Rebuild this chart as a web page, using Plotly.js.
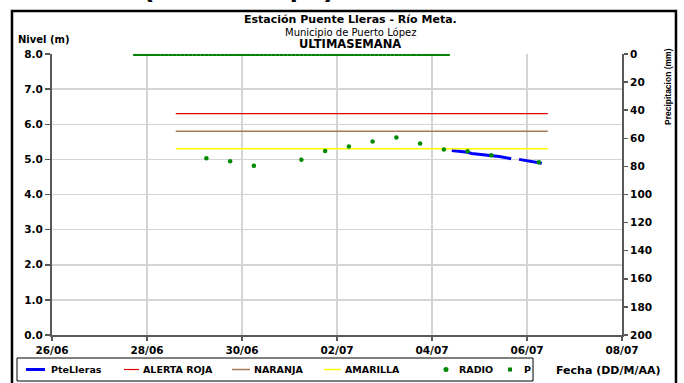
<!DOCTYPE html>
<html>
<head>
<meta charset="utf-8">
<script src="https://cdn.plot.ly/plotly-3.0.1.min.js"></script>
<style>html,body{margin:0;padding:0;background:#fff;}#chart{width:684px;height:383px;}</style>
</head>
<body>
<div id="chart"></div>
<script>
// Level series (PteLleras) - metres
const levelTime = ['2012-07-04 10:00','2012-07-04 12:00','2012-07-04 14:00','2012-07-04 16:00','2012-07-04 18:00','2012-07-04 20:00','2012-07-04 22:00',
  '2012-07-05 00:00','2012-07-05 02:00','2012-07-05 04:00','2012-07-05 06:00','2012-07-05 08:00','2012-07-05 10:00','2012-07-05 12:00','2012-07-05 14:00','2012-07-05 16:00','2012-07-05 18:00','2012-07-05 20:00','2012-07-05 22:00',
  '2012-07-06 00:00','2012-07-06 02:00','2012-07-06 04:00','2012-07-06 06:00','2012-07-06 07:30'];
const levelVal = [5.25,5.24,5.23,5.22,5.20,5.17,5.16,
  5.15,5.13,5.12,5.11,5.09,5.08,5.06,5.04,5.02,null,5.00,4.98,
  4.96,4.95,4.93,4.91,4.89];

// Alert thresholds
const alertTime = ['2012-06-28 14:30','2012-07-06 10:30'];
const rojaVal = [6.3,6.3];
const naranjaVal = [5.8,5.8];
const amarillaVal = [5.3,5.3];

// Radio reports
const radioTime = ['2012-06-29 06:00','2012-06-29 18:00','2012-06-30 06:00','2012-07-01 06:00','2012-07-01 18:00','2012-07-02 06:00','2012-07-02 18:00',
  '2012-07-03 06:00','2012-07-03 18:00','2012-07-04 06:00','2012-07-04 18:00','2012-07-05 06:00','2012-07-06 06:00'];
const radioVal = [5.03,4.95,4.82,4.99,5.24,5.37,5.51,5.62,5.45,5.28,5.23,5.12,4.92];

// Precipitation (mm)
const pTime = ['2012-06-27 18:00','2012-06-27 20:00','2012-06-27 22:00',
  '2012-06-28 00:00','2012-06-28 02:00','2012-06-28 04:00','2012-06-28 06:00','2012-06-28 08:00','2012-06-28 10:00','2012-06-28 12:00','2012-06-28 14:00','2012-06-28 16:00','2012-06-28 18:00','2012-06-28 20:00','2012-06-28 22:00',
  '2012-06-29 00:00','2012-06-29 02:00','2012-06-29 04:00','2012-06-29 06:00','2012-06-29 08:00','2012-06-29 10:00','2012-06-29 12:00','2012-06-29 14:00','2012-06-29 16:00','2012-06-29 18:00','2012-06-29 20:00','2012-06-29 22:00',
  '2012-06-30 00:00','2012-06-30 02:00','2012-06-30 04:00','2012-06-30 06:00','2012-06-30 08:00','2012-06-30 10:00','2012-06-30 12:00','2012-06-30 14:00','2012-06-30 16:00','2012-06-30 18:00','2012-06-30 20:00','2012-06-30 22:00',
  '2012-07-01 00:00','2012-07-01 02:00','2012-07-01 04:00','2012-07-01 06:00','2012-07-01 08:00','2012-07-01 10:00','2012-07-01 12:00','2012-07-01 14:00','2012-07-01 16:00','2012-07-01 18:00','2012-07-01 20:00','2012-07-01 22:00',
  '2012-07-02 00:00','2012-07-02 02:00','2012-07-02 04:00','2012-07-02 06:00','2012-07-02 08:00','2012-07-02 10:00','2012-07-02 12:00','2012-07-02 14:00','2012-07-02 16:00','2012-07-02 18:00','2012-07-02 20:00','2012-07-02 22:00',
  '2012-07-03 00:00','2012-07-03 02:00','2012-07-03 04:00','2012-07-03 06:00','2012-07-03 08:00','2012-07-03 10:00','2012-07-03 12:00','2012-07-03 14:00','2012-07-03 15:00','2012-07-03 17:00','2012-07-03 18:00','2012-07-03 20:00','2012-07-03 22:00',
  '2012-07-04 00:00','2012-07-04 02:00','2012-07-04 04:00','2012-07-04 06:00','2012-07-04 08:00'];
const pVal = [0,0,0,
  0,0,0,0,0,0,0,0,0,0,0,0,
  0,0,0,0,0,0,0,0,0,0,0,0,
  0,0,0,0,0,0,0,0,0,0,0,0,
  0,0,0,0,0,0,0,0,0,0,0,0,
  0,0,0,0,0,0,0,0,0,0,0,0,
  0,0,0,0,0,0,0,0,0,0,0,0,0,
  0,0,0,0,0];

// Legend labels
const legendNames = ['PteLleras','ALERTA ROJA','NARANJA','AMARILLA','RADIO','P'];

const F = 'DejaVu Sans, Arial, sans-serif';
const FA = 'Liberation Sans, Arial, sans-serif';
const axisCol = '#595959';
const gridCol = '#d4d4d4';
const cBlue = '#0000ff', cRed = '#dd0000', cBrown = '#a67c58', cYellow = '#ffff00', cRadio = '#008a00', cP = '#008000';

const traces = [
  {x: levelTime, y: levelVal, name: legendNames[0], type: 'scatter', mode: 'lines', line: {color: cBlue, width: 3}, connectgaps: false},
  {x: alertTime, y: rojaVal, name: legendNames[1], type: 'scatter', mode: 'lines', line: {color: cRed, width: 1.2}},
  {x: alertTime, y: naranjaVal, name: legendNames[2], type: 'scatter', mode: 'lines', line: {color: cBrown, width: 1.5}},
  {x: alertTime, y: amarillaVal, name: legendNames[3], type: 'scatter', mode: 'lines', line: {color: cYellow, width: 1.5}},
  {x: radioTime, y: radioVal, name: legendNames[4], type: 'scatter', mode: 'markers', marker: {color: cRadio, size: 4.5, symbol: 'circle'}},
  {x: pTime, y: pVal, name: legendNames[5], type: 'scatter', mode: 'markers', yaxis: 'y2', marker: {color: cP, size: 4, symbol: 'square'}}
];

// legend (drawn in paper space, below the plot)
const LY = -0.1228;
const legShapes = [
  {type: 'rect', xref: 'paper', yref: 'paper', x0: -0.0614, x1: 0.8439, y0: -0.1637, y1: -0.0819, line: {color: '#000', width: 1}, fillcolor: '#fff', layer: 'above'},
  {type: 'line', xref: 'paper', yref: 'paper', x0: -0.0456, x1: -0.0123, y0: LY, y1: LY, line: {color: cBlue, width: 3}, layer: 'above'},
  {type: 'line', xref: 'paper', yref: 'paper', x0: 0.1263, x1: 0.1526, y0: LY, y1: LY, line: {color: cRed, width: 1.2}, layer: 'above'},
  {type: 'line', xref: 'paper', yref: 'paper', x0: 0.3158, x1: 0.3474, y0: LY, y1: LY, line: {color: cBrown, width: 1.5}, layer: 'above'},
  {type: 'line', xref: 'paper', yref: 'paper', x0: 0.4772, x1: 0.5070, y0: LY, y1: LY, line: {color: cYellow, width: 1.5}, layer: 'above'},
  {type: 'circle', xref: 'paper', yref: 'paper', x0: 0.6868, x1: 0.6956, y0: -0.1317, y1: -0.1139, line: {width: 0}, fillcolor: cRadio, layer: 'above'},
  {type: 'rect', xref: 'paper', yref: 'paper', x0: 0.8000, x1: 0.8070, y0: -0.1299, y1: -0.1157, line: {width: 0}, fillcolor: cP, layer: 'above'}
];
const legTextX = [-0.0053, 0.1561, 0.3509, 0.5105, 0.7105, 0.8246];
const legAnn = legendNames.map((n, i) => ({text: '<b>' + n + '</b>', xref: 'paper', yref: 'paper', x: legTextX[i], y: LY,
  xanchor: 'left', yanchor: 'middle', showarrow: false, font: {family: F, size: 9.5}}));

const layout = {
  width: 684, height: 383,
  margin: {l: 52, r: 62, t: 54, b: 48},
  paper_bgcolor: '#ffffff', plot_bgcolor: '#ffffff',
  font: {family: F, size: 10, color: '#000'},
  showlegend: false,
  xaxis: {type: 'date', range: ['2012-06-26', '2012-07-08'], tick0: '2012-06-26', dtick: 2*86400000,
    tickformat: '%d/%m', showline: true, linecolor: axisCol, linewidth: 2,
    ticks: 'outside', ticklen: 4, tickcolor: axisCol, tickwidth: 1.5,
    showgrid: true, gridcolor: gridCol, gridwidth: 1.5, zeroline: false, automargin: false,
    tickfont: {family: F, size: 10.5, weight: 'bold'}, fixedrange: true},
  xaxis2: {type: 'date', overlaying: 'x', anchor: 'y', side: 'bottom', range: ['2012-06-26', '2012-07-08'], tick0: '2012-06-26', dtick: 2*86400000,
    showticklabels: false, showgrid: false, showline: false, zeroline: false,
    ticks: 'inside', ticklen: 3, tickcolor: axisCol, tickwidth: 1.5},
  yaxis: {range: [0, 8], dtick: 1, tickformat: '.1f', showline: true, linecolor: axisCol, linewidth: 2,
    ticks: 'outside', ticklen: 5, tickcolor: axisCol, tickwidth: 1.5,
    showgrid: true, gridcolor: gridCol, gridwidth: 1.5, zeroline: false, automargin: false,
    tickfont: {family: F, size: 10.5, weight: 'bold'}, fixedrange: true},
  yaxis2: {overlaying: 'y', side: 'right', anchor: 'x', range: [200, 0], dtick: 20,
    showline: true, linecolor: axisCol, linewidth: 2,
    ticks: 'outside', ticklen: 4, tickcolor: axisCol, tickwidth: 1.5,
    showgrid: false, zeroline: false, automargin: false,
    tickfont: {family: F, size: 10.5, weight: 'bold'}, fixedrange: true},
  yaxis3: {overlaying: 'y', side: 'right', anchor: 'x', range: [200, 0], dtick: 20,
    showline: false, showticklabels: false, showgrid: false, zeroline: false,
    ticks: 'inside', ticklen: 4, tickcolor: axisCol, tickwidth: 1.5},
  shapes: [
    {type: 'rect', xref: 'paper', yref: 'paper', x0: -0.0702, x1: 1.0947, y0: -0.2, y1: 1.153,
      line: {color: '#000', width: 2.5}, fillcolor: 'rgba(0,0,0,0)', layer: 'above'}
  ].concat(legShapes),
  annotations: [
    {text: '<b>(Nivel tiempo)</b>', xref: 'paper', yref: 'paper', x: 0.328, y: 1.179, xanchor: 'center', yanchor: 'bottom', showarrow: false, font: {family: FA, size: 29}},
    {text: '<b>Estación Puente Lleras - Río Meta.</b>', xref: 'paper', yref: 'paper', x: 0.523, y: 1.121, xanchor: 'center', yanchor: 'middle', showarrow: false, font: {family: F, size: 11}},
    {text: 'Municipio de Puerto López', xref: 'paper', yref: 'paper', x: 0.523, y: 1.077, xanchor: 'center', yanchor: 'middle', showarrow: false, font: {family: F, size: 10}},
    {text: '<b>ULTIMASEMANA</b>', xref: 'paper', yref: 'paper', x: 0.523, y: 1.034, xanchor: 'center', yanchor: 'middle', showarrow: false, font: {family: F, size: 11.5}},
    {text: '<b>Nivel (m)</b>', xref: 'paper', yref: 'paper', x: -0.014, y: 1.053, xanchor: 'center', yanchor: 'middle', showarrow: false, font: {family: F, size: 10}},
    {text: '<b>Precipitacion (mm)</b>', xref: 'paper', yref: 'paper', x: 1.0807, y: 0.886, xanchor: 'center', yanchor: 'middle', textangle: -90, showarrow: false, font: {family: FA, size: 8.5}},
    {text: '<b>Fecha (DD/M/AA)</b>', xref: 'paper', yref: 'paper', x: 0.975, y: -0.128, xanchor: 'center', yanchor: 'middle', showarrow: false, font: {family: F, size: 11}}
  ].concat(legAnn)
};

Plotly.newPlot('chart', traces, layout, {displayModeBar: false, staticPlot: true});
</script>
</body>
</html>
